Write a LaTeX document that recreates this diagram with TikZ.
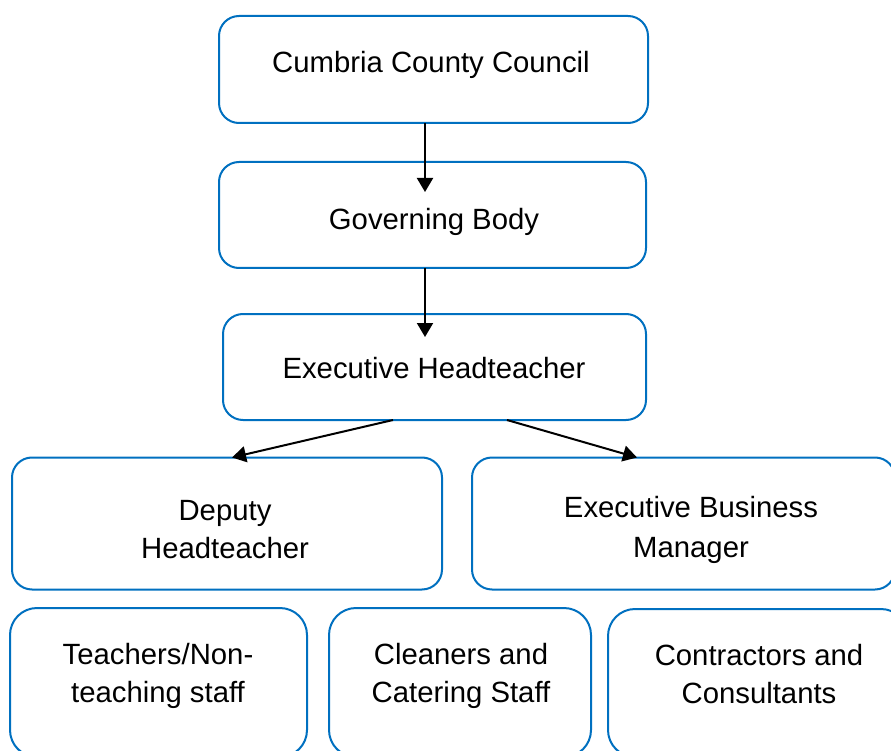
\documentclass[tikz,border=0pt]{standalone}
\usepackage{fontspec}
\setmainfont{Liberation Sans}
\usetikzlibrary{arrows.meta}
\definecolor{boxblue}{RGB}{0,112,192}
\tikzset{
  box/.style={draw=boxblue, line width=2pt, rectangle, rounded corners=20pt, inner sep=0pt, outer sep=0pt, fill=white},
  bigbox/.style={box, rounded corners=27pt},
  lbl/.style={inner sep=0pt, anchor=base, font=\fontsize{29.3}{37}\selectfont, text=black},
  conn/.style={line width=2pt, draw=black, -{Triangle[length=14pt,width=16pt]}}
}
\begin{document}
\begin{tikzpicture}[x=1pt,y=-1pt]
\useasboundingbox (0,0) rectangle (891,751);
\clip (0,0) rectangle (891,751);
% boxes
\node[box, minimum width=429pt, minimum height=107pt] (b1) at (433.5,69.5) {};
\node[box, minimum width=427pt, minimum height=106pt] (b2) at (432.5,215) {};
\node[box, minimum width=423pt, minimum height=106pt] (b3) at (434.5,367) {};
\node[box, minimum width=430pt, minimum height=132pt] (b4) at (227,523.5) {};
\node[box, minimum width=423pt, minimum height=132pt] (b5) at (683.5,523.5) {};
\node[bigbox, minimum width=297pt, minimum height=149pt] (b6) at (158.5,682.5) {};
\node[bigbox, minimum width=262pt, minimum height=149pt] (b7) at (460,682.5) {};
\node[bigbox, minimum width=300pt, minimum height=148pt] (b8) at (758,683) {};
% texts
\node[lbl] (t1) at (431,73) {Cumbria County Council};
\node[lbl] (t2) at (434,230) {Governing Body};
\node[lbl] (t3) at (434,378) {Executive Headteacher};
\node[lbl] (t4a) at (225,520) {Deputy};
\node[lbl] (t4b) at (225,558) {Headteacher};
\node[lbl] (t5a) at (691,517) {Executive Business};
\node[lbl] (t5b) at (691,557) {Manager};
\node[lbl] (t6a) at (158,664) {Teachers/Non-};
\node[lbl] (t6b) at (158,702) {teaching staff};
\node[lbl] (t7a) at (461,664) {Cleaners and};
\node[lbl] (t7b) at (461,702) {Catering Staff};
\node[lbl] (t8a) at (759,665) {Contractors and};
\node[lbl] (t8b) at (759,703) {Consultants};
% connectors
\draw[conn] ([xshift=-8.5pt]b1.south) -- ([xshift=-7.5pt,yshift=-30pt]b2.north);
\draw[conn] ([xshift=-7.5pt]b2.south) -- ([xshift=-9.5pt,yshift=-23pt]b3.north);
\draw[conn] ([xshift=-41.5pt]b3.south) -- ([xshift=5pt]b4.north);
\draw[conn] ([xshift=72.5pt]b3.south) -- ([xshift=-46.5pt]b5.north);
\end{tikzpicture}
\end{document}
